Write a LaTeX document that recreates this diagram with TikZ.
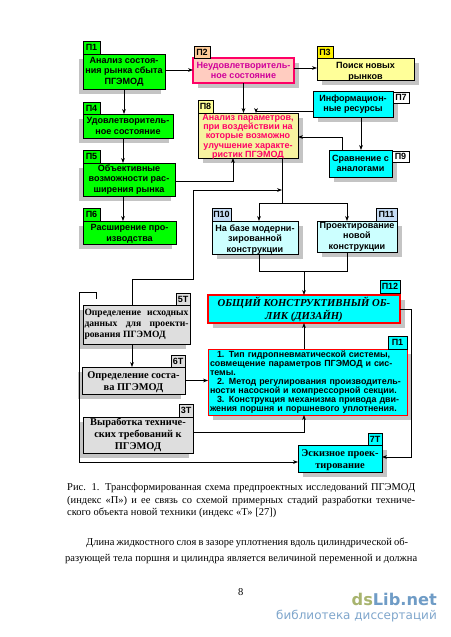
\documentclass[tikz,border=0pt]{standalone}
\usepackage{fontspec}
\setmainfont{Liberation Serif}
\setsansfont{Liberation Sans}
\newfontfamily\wmfont{DejaVu Sans}
\usetikzlibrary{arrows.meta,shadows}
\definecolor{shd}{HTML}{C4C4C4}
\definecolor{grn}{HTML}{00FF00}
\definecolor{cyn}{HTML}{00FFFF}
\definecolor{lcyn}{HTML}{CCFFFF}
\definecolor{lyel}{HTML}{FFFF99}
\definecolor{pyel}{HTML}{F7F2A0}
\definecolor{salm}{HTML}{FFCCC0}
\definecolor{crim}{HTML}{FF0066}
\definecolor{ltag}{HTML}{FFCC99}
\definecolor{btag}{HTML}{C6DCF5}
\definecolor{gry}{HTML}{DEDEDE}
\definecolor{mgn}{HTML}{D0009A}
\definecolor{wmo}{HTML}{A8B46E}
\definecolor{wmb}{HTML}{6F9CC6}
\definecolor{wmt}{HTML}{7FA6CC}
\newcommand{\dnshift}[2]{\raisebox{\dimexpr-#1-.25em\relax}[0pt][0pt]{\begin{tabular}{@{}c@{}}#2\end{tabular}}}
\tikzset{
 base/.style={draw=black,line width=1pt,inner sep=0pt,outer sep=0pt,align=center},
 shr/.style={general shadow={shadow xshift=5pt,shadow yshift=-5pt,fill=shd}},
 shl/.style={general shadow={shadow xshift=-4pt,shadow yshift=-5pt,fill=shd}},
 sf/.style={font=\sffamily\bfseries\fontsize{9.05}{10.6}\selectfont},
 rm/.style={font=\rmfamily\bfseries\fontsize{10.4}{11.8}\selectfont},
 gbox/.style={base,shl,sf,fill=grn},
 cbox/.style={base,shr,sf,fill=cyn},
 lbox/.style={base,shr,sf,fill=lcyn},
 ybox/.style={base,shr,sf,fill=lyel},
 tbox/.style={base,shl,rm,fill=gry},
 tag/.style={draw=black,line width=0.8pt,inner sep=0pt,outer sep=0pt,font=\sffamily\bfseries\fontsize{9}{10}\selectfont},
 conn/.style={draw=black,line width=0.8pt},
 arr/.style={conn,-{Stealth[length=5pt,width=3.8pt]}},
 capt/.style={inner sep=0pt,anchor=west,font=\rmfamily\fontsize{10.5}{12}\selectfont},
}
\begin{document}
\begin{tikzpicture}[x=1pt,y=-1pt]
\useasboundingbox[fill=white] (0,0) rectangle (450,637);
% boxes
\node[gbox,minimum width=82pt,minimum height=35pt] (p1) at (124,71.5) {Анализ состоя-\\ния рынка сбыта\\ПГЭМОД};
\node[tag,fill=grn,minimum width=17pt,minimum height=13pt] (t1) at (91.5,47.5) {П1};
\node[base,shr,sf,fill=salm,draw=crim,line width=1.3pt,text=mgn,minimum width=101pt,minimum height=25pt] (p2) at (243.5,70.5) {Неудовлетворитель-\\ное состояние};
\node[tag,fill=ltag,minimum width=16pt,minimum height=12pt] (t2) at (202,52) {П2};
\node[ybox,minimum width=97pt,minimum height=22pt] (p3) at (365.5,69) {\dnshift{3pt}{Поиск новых\\рынков}};
\node[tag,fill=yellow,minimum width=16pt,minimum height=12pt] (t3) at (325,52) {П3};
\node[cbox,minimum width=80pt,minimum height=26pt] (p7) at (353,104) {Информацион-\\ные ресурсы};
\node[tag,fill=white,minimum width=16pt,minimum height=11pt] (t7) at (401,97.5) {П7};
\node[cbox,minimum width=63pt,minimum height=27pt] (p9) at (360.5,163.5) {Сравнение с\\аналогами};
\node[tag,fill=white,minimum width=17pt,minimum height=11pt] (t9) at (400.5,156.5) {П9};
\node[base,shr,font=\sffamily\bfseries\fontsize{9}{9.1}\selectfont,fill=pyel,text=crim,minimum width=100pt,minimum height=45pt] (p8) at (248,135.5) {\dnshift{1.5pt}{Анализ параметров,\\при воздействии на\\которые возможно\\улучшение характе-\\ристик ПГЭМОД}};
\node[tag,fill=lyel,minimum width=15pt,minimum height=13pt] (t8) at (205.5,106.5) {П8};
\node[gbox,minimum width=90pt,minimum height=24pt] (p4) at (128,126) {Удовлетворитель-\\ное состояние};
\node[tag,fill=grn,minimum width=17pt,minimum height=12pt] (t4) at (91.5,108) {П4};
\node[gbox,minimum width=92pt,minimum height=33pt] (p5) at (129,179.5) {Объективные\\возможности рас-\\ширения рынка};
\node[tag,fill=grn,minimum width=17pt,minimum height=13pt] (t5) at (91.5,156.5) {П5};
\node[gbox,minimum width=93pt,minimum height=23pt] (p6) at (129.5,232.5) {\dnshift{1.5pt}{Расширение про-\\изводства}};
\node[tag,fill=grn,minimum width=17pt,minimum height=13pt] (t6) at (91.5,214.5) {П6};
\node[lbox,minimum width=86pt,minimum height=33pt] (p10) at (255,237.5) {\dnshift{2pt}{На базе модерни-\\зированной\\конструкции}};
\node[tag,fill=btag,minimum width=19pt,minimum height=13pt] (t10) at (221.5,214.5) {П10};
\node[lbox,minimum width=80pt,minimum height=31pt] (p11) at (357,236.5) {Проектирование\\новой\\конструкции};
\node[tag,fill=btag,minimum width=21pt,minimum height=13pt] (t11) at (386.5,214.5) {П11};
\node[base,shr,draw=red,line width=2.6pt,fill=cyn,font=\rmfamily\bfseries\itshape\fontsize{10.7}{13}\selectfont,minimum width=192pt,minimum height=28pt] (p12) at (304,309) {ОБЩИЙ КОНСТРУКТИВНЫЙ ОБ-\\ЛИК (ДИЗАЙН)};
\node[tag,fill=cyn,minimum width=20pt,minimum height=13pt] (t12) at (390,286.5) {П12};
\node[base,shr,draw=red,line width=1pt,fill=cyn,align=left,font=\sffamily\bfseries\fontsize{8.9}{9}\selectfont,minimum width=199pt,minimum height=66pt,text width=195pt] (p1b) at (307.5,382) {\hspace*{7pt}1. Тип гидропневматической системы,\\совмещение параметров ПГЭМОД и сис-\\темы.\\\hspace*{7pt}2. Метод регулирования производитель-\\ности насосной и компрессорной секции.\\\hspace*{7pt}3. Конструкция механизма привода дви-\\жения поршня и поршневого уплотнения.};
\node[tag,fill=cyn,minimum width=19pt,minimum height=13pt] (t1b) at (397.5,342.5) {П1};
\node[tbox,font=\rmfamily\bfseries\fontsize{9.6}{11.3}\selectfont,minimum width=107pt,minimum height=39pt,align=left] (t5t) at (136.5,324.5) {\makebox[104pt][s]{Определение исходных}\\\makebox[104pt][s]{данных для проекти-}\\рования ПГЭМОД};
\node[tag,fill=gry,minimum width=14pt,minimum height=12pt] (g5) at (183,299) {5Т};
\node[tbox,minimum width=103pt,minimum height=27pt] (t6t) at (133.5,380.5) {\dnshift{1.5pt}{Определение соста-\\ва ПГЭМОД}};
\node[tag,fill=gry,minimum width=14pt,minimum height=12pt] (g6) at (178,361) {6Т};
\node[tbox,minimum width=110pt,minimum height=36pt] (t3t) at (138,435) {Выработка техниче-\\ских требований к\\ПГЭМОД};
\node[tag,fill=gry,minimum width=14pt,minimum height=13pt] (g3) at (186,410.5) {3Т};
\node[base,shr,rm,fill=cyn,minimum width=84pt,minimum height=27pt] (t7t) at (340,458.5) {\dnshift{1.5pt}{Эскизное проек-\\тирование}};
\node[tag,fill=cyn,minimum width=14pt,minimum height=12pt] (g7) at (375,439) {7Т};
% connectors
\draw[arr] (p1.east |- 0,70) -- (p2.west |- 0,70);
\draw[arr] (p2.east |- 0,68) -- (p3.west |- 0,68);
\draw[arr] (p1.south) -- (p1.south |- p4.north);
\draw[arr] ([xshift=-5pt]p4.south) -- ([xshift=-5pt]p4.south |- p5.north);
\draw[arr] ([xshift=-6pt]p5.south) -- ([xshift=-6pt]p5.south |- p6.north);
\draw[arr] (p5.east |- 0,181) -| ([xshift=-15pt]p8.south);
\draw[arr] (p2.south) -- (p2.south |- p8.north);
\draw[arr] ([yshift=-7pt]p7.west) -| ([xshift=8pt]p8.north);
\draw[arr] ([xshift=8pt]p7.south) -- ([xshift=8pt]p7.south |- p9.north);
\draw[arr] ([xshift=-18pt]p9.north) |- (p8.east |- 0,137);
\coordinate (jt) at (282,203);
\draw[conn] (jt |- p8.south) -- (jt);
\draw[arr] (jt) -| ([xshift=4pt]p10.north);
\draw[arr] (jt) -| ([xshift=-10pt]p11.north);
\coordinate (jb) at (304,271);
\draw[conn] ([xshift=4pt]p10.south) |- (jb);
\draw[conn] ([xshift=-10pt]p11.south) |- (jb);
\draw[arr] (jb) -- (p12.north);
\draw[arr] (p1b.north -| p12.south) -- (p12.south);
\draw[arr] ([xshift=-4.5pt]t5t.north) |- (193,279) -- (193,190) -- (jt |- 0,190);
\draw[arr] ([xshift=-4.5pt]t5t.south) -- ([xshift=-4.5pt]t5t.south |- t6t.north);
\draw[arr] (t6t.east) -- (p1b.west |- t6t.east);
\draw[arr] (t3t.east |- 0,432) -| (jb |- p1b.south);
\draw[arr] (p12.east) -- (411,309) |- (t7t.east |- 0,457);
\coordinate (lp) at (96,299);
\draw[conn] (lp) -- (96,292) -- (79,292) -- (79,462);
\draw[arr] (79,462) -- (t7t.west |- 0,462);
% caption
\node[capt] (c1) at (67,488) {\makebox[348pt][s]{Рис. 1. Трансформированная схема предпроектных исследований ПГЭМОД}};
\node[capt] (c2) at (67,501) {\makebox[348pt][s]{(индекс «П») и ее связь со схемой примерных стадий разработки техниче-}};
\node[capt] (c3) at (67,513) {ского объекта новой техники (индекс «Т» [27])};
\node[capt] (b1) at (86,543) {\makebox[322pt][s]{Длина жидкостного слоя в зазоре уплотнения вдоль цилиндрической об-}};
\node[capt] (b2) at (65,559) {\makebox[352pt][s]{разующей тела поршня и цилиндра является величиной переменной и должна}};
\node[capt] (pg) at (238,592) {8};
% watermark
\node[inner sep=0pt,anchor=east,font=\wmfont\bfseries\fontsize{16.2}{18}\selectfont] (wm) at (437,599) {\textcolor{wmo}{ds}\textcolor{wmb}{Lib}\textcolor{wmb}{.net}};
\node[inner sep=0pt,anchor=east,font=\wmfont\fontsize{12}{14}\selectfont,text=wmt] (wm2) at (437,616) {библиотека диссертаций};
\end{tikzpicture}
\end{document}
